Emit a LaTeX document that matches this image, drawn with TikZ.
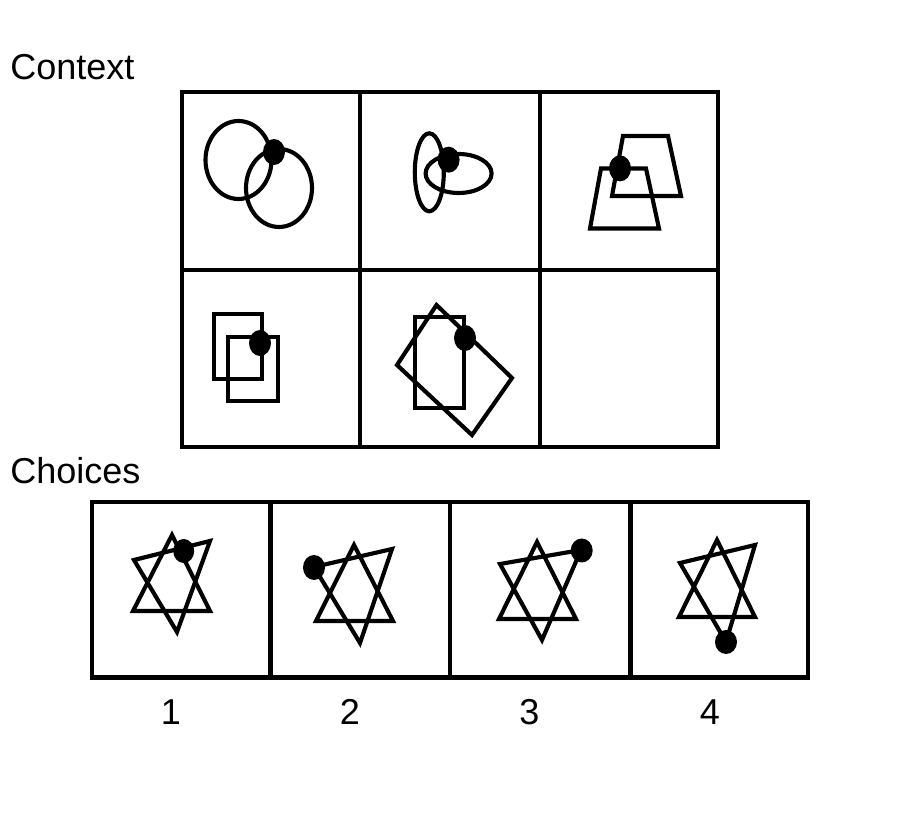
\documentclass[tikz,border=0pt]{standalone}
\usepackage{fontspec}
\setmainfont{Liberation Sans}
\begin{document}
\begin{tikzpicture}[x=0.02cm,y=-0.02cm,
  frame/.style={line width=2.65pt},
  fig/.style={line width=2.35pt},
  dot/.style={fill=black},
  lbl/.style={font=\fontsize{20.5}{24}\selectfont, inner sep=0pt}]
\useasboundingbox (0,0) rectangle (900,820);

% labels
\node[lbl, anchor=base west] (ctx) at (10,79.3) {Context};
\node[lbl, anchor=base west] (chc) at (10,483.3) {Choices};
\node[lbl, anchor=base] (n1) at (171,725) {1};
\node[lbl, anchor=base] (n2) at (350,725) {2};
\node[lbl, anchor=base] (n3) at (529.5,725) {3};
\node[lbl, anchor=base] (n4) at (710,725) {4};

% context grid
\draw[frame] (182,92) rectangle (718,447);
\draw[frame] (360,92) -- (360,447);
\draw[frame] (540,92) -- (540,447);
\draw[frame] (182,270) -- (718,270);

% cell 1: two circles
\draw[fig] (238.5,160) ellipse [x radius=0.66cm, y radius=0.78cm];
\draw[fig] (279,188) ellipse [x radius=0.66cm, y radius=0.78cm];
\fill[dot] (274,152) ellipse [x radius=0.22cm, y radius=0.26cm];

% cell 2: two ellipses
\draw[fig] (429.3,172.3) ellipse [x radius=0.29cm, y radius=0.78cm];
\draw[fig] (458.6,173.5) ellipse [x radius=0.66cm, y radius=0.39cm];
\fill[dot] (448.6,159.7) ellipse [x radius=0.22cm, y radius=0.26cm];

% cell 3: two trapezoids
\draw[fig] (623,136) -- (668,136) -- (681,196) -- (612,196) -- cycle;
\draw[fig] (601,168.5) -- (646,168.5) -- (659,228.5) -- (590,228.5) -- cycle;
\fill[dot] (620,168.4) ellipse [x radius=0.22cm, y radius=0.26cm];

% cell 4: two rectangles
\draw[fig] (214,314) rectangle (262,379);
\draw[fig] (228,337) rectangle (278,401);
\fill[dot] (260,343) ellipse [x radius=0.22cm, y radius=0.26cm];

% cell 5: rectangle and rotated rectangle
\draw[fig] (415,317) rectangle (464,408);
\draw[fig] (436.5,305) -- (512,378) -- (472,435) -- (397,365) -- cycle;
\fill[dot] (465,338) ellipse [x radius=0.22cm, y radius=0.26cm];

% choices grid
\draw[frame] (92,502) rectangle (808,677.5);
\draw[frame] (270.5,502) -- (270.5,677.5);
\draw[frame] (450,502) -- (450,677.5);
\draw[frame] (630.5,502) -- (630.5,677.5);

% choice 1
\draw[fig] (172,535) -- (210,611) -- (133,611) -- cycle;
\draw[fig] (134,560) -- (210,541) -- (177,632) -- cycle;
\fill[dot] (183.7,551) ellipse [x radius=0.21cm, y radius=0.24cm];

% choice 2
\draw[fig] (354,545) -- (393,621) -- (316,621) -- cycle;
\draw[fig] (314,567) -- (392,549) -- (360,643) -- cycle;
\fill[dot] (314,567.5) ellipse [x radius=0.22cm, y radius=0.25cm];

% choice 3
\draw[fig] (537,542) -- (576,619) -- (499,619) -- cycle;
\draw[fig] (500,564) -- (581,550) -- (542,640) -- cycle;
\fill[dot] (581.7,550.5) ellipse [x radius=0.22cm, y radius=0.24cm];

% choice 4
\draw[fig] (717,540) -- (755,617) -- (679,617) -- cycle;
\draw[fig] (680,563) -- (755,545) -- (726,642) -- cycle;
\fill[dot] (726,642) ellipse [x radius=0.22cm, y radius=0.24cm];
\end{tikzpicture}
\end{document}
